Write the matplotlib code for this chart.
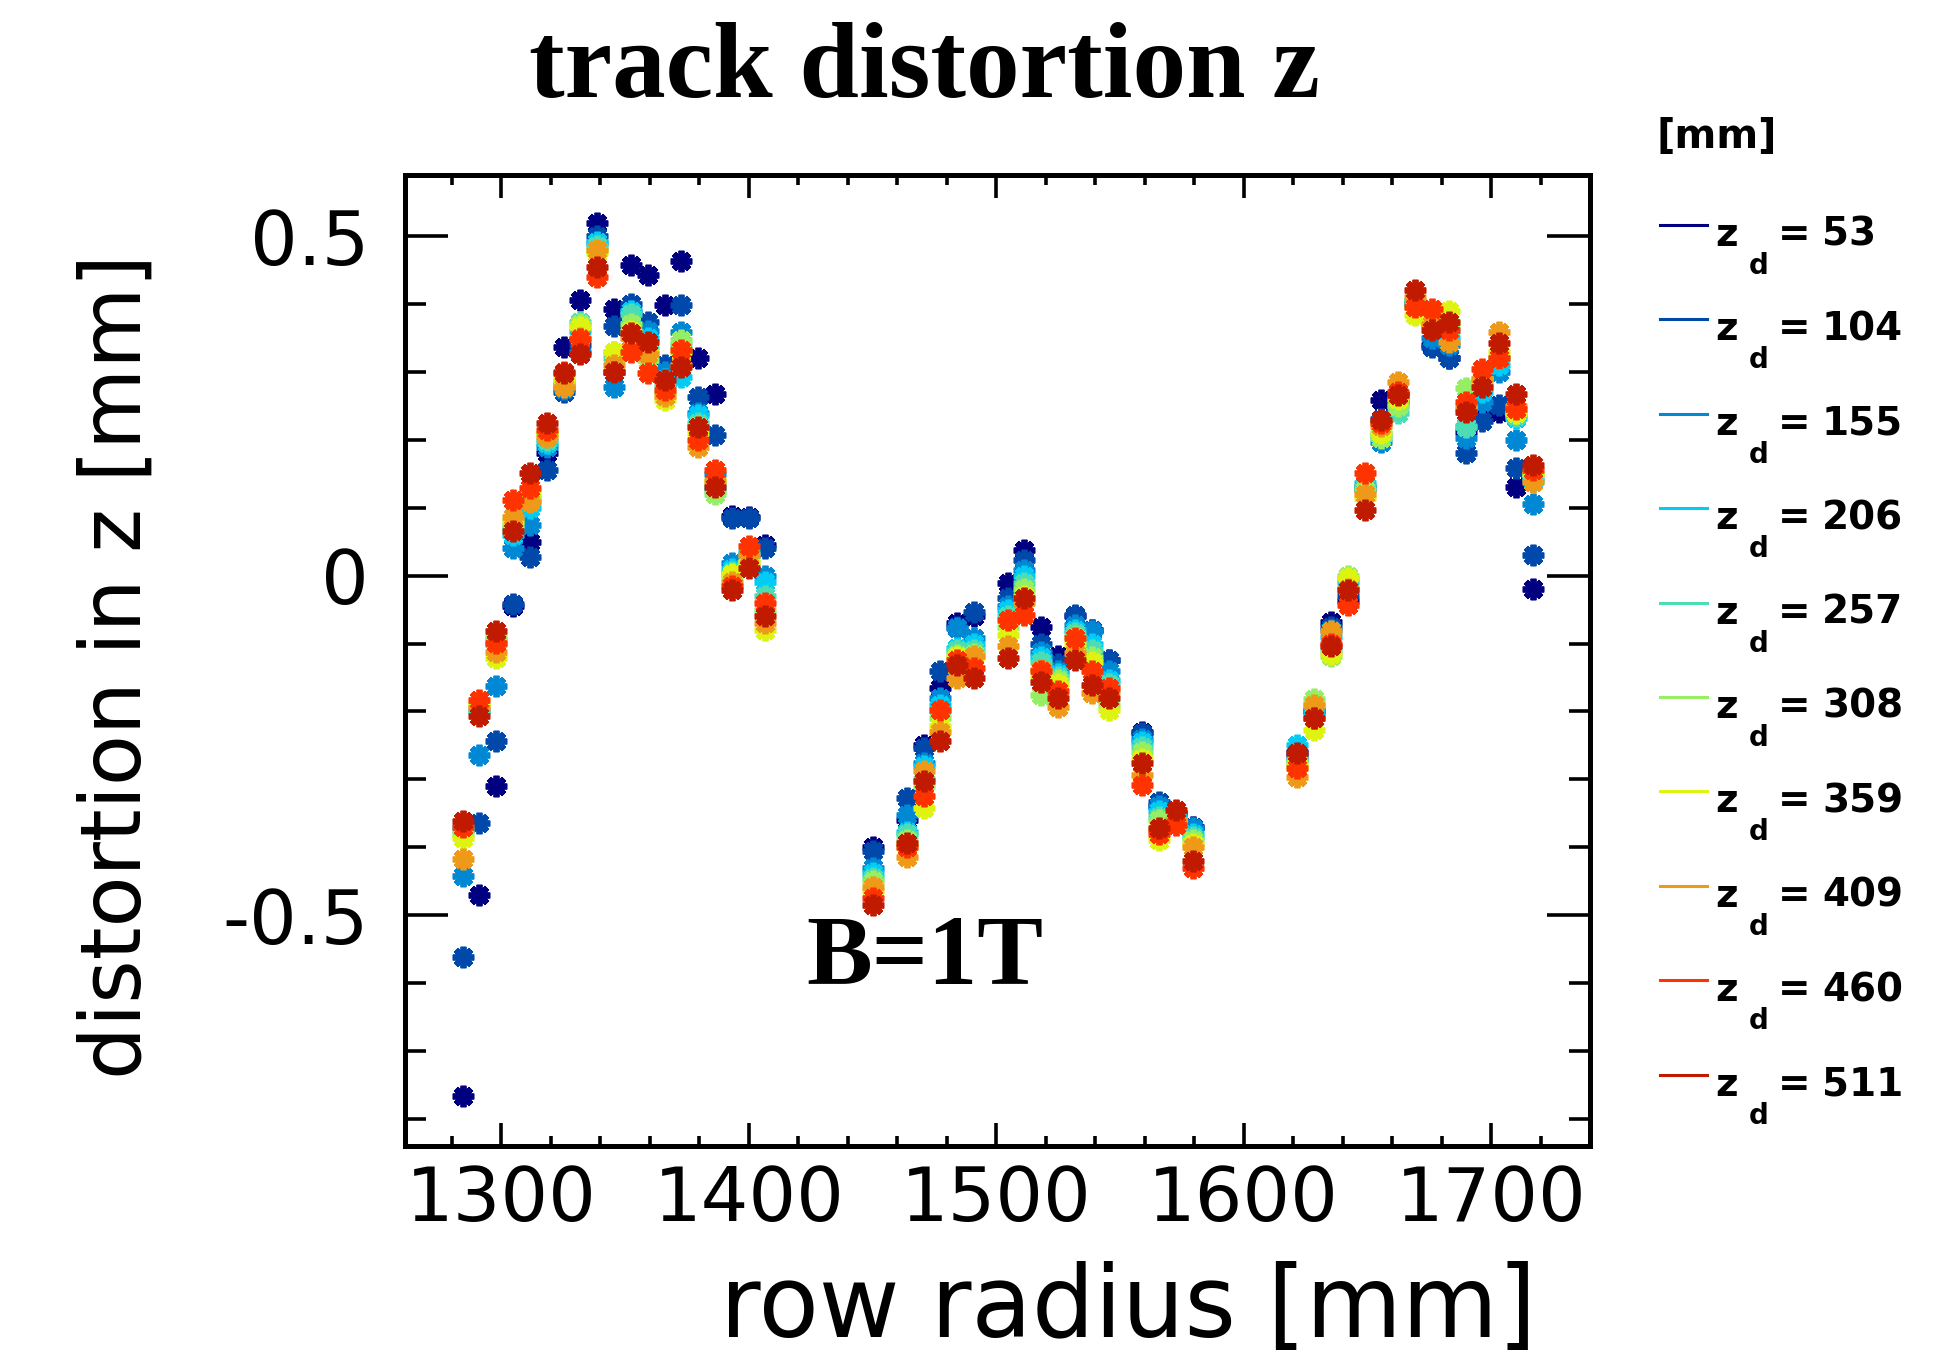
import matplotlib
matplotlib.use("Agg")
import matplotlib.pyplot as plt
from matplotlib.lines import Line2D
from matplotlib.markers import MarkerStyle
from matplotlib.ticker import MultipleLocator

plt.rcParams['axes.unicode_minus'] = False
plt.rcParams['font.family'] = 'DejaVu Sans'

# row radii [mm] of the three sectors
r_left = [1284.3, 1291.1, 1297.9, 1304.7, 1311.5, 1318.3, 1325.1, 1331.9, 1338.7, 1345.5,
          1352.3, 1359.1, 1365.9, 1372.7, 1379.5, 1386.3, 1393.1, 1399.9, 1406.7]
r_mid = [1450.2, 1463.8, 1470.6, 1477.4, 1484.2, 1491.0, 1504.6, 1511.4, 1518.2, 1525.0,
         1531.8, 1538.6, 1545.4, 1559.0, 1565.8, 1572.6, 1579.4]
r_right = [1621.7, 1628.5, 1635.3, 1642.1, 1648.9, 1655.7, 1662.5, 1669.3, 1676.1, 1682.9,
           1689.7, 1696.5, 1703.3, 1710.1, 1716.9]
row_radius = r_left + r_mid + r_right

z_drift = [53, 104, 155, 206, 257, 308, 359, 409, 460, 511]
colors = ['#000080', '#0048aa', '#0088d5', '#00ccf5', '#4cddb5',
          '#96ee64', '#ddf312', '#ee9a18', '#ff3300', '#c01a00']

# distortion in z [mm], one list per drift length (left | middle | right)
dz_53 = [-0.767, -0.47, -0.31, -0.045, 0.05, 0.18, 0.337, 0.406, 0.519, 0.393, 0.457, 0.442, 0.398, 0.464, 0.32, 0.268, 0.088, 0.087, 0.045,
         -0.40, -0.36, -0.249, -0.166, -0.07, -0.06, -0.011, 0.038, -0.075, -0.119, -0.06, -0.08, -0.124, -0.23, -0.34, -0.35, -0.37,
         -0.26, -0.20, -0.068, -0.038, 0.128, 0.259, 0.268, 0.40, 0.34, 0.32, 0.212, 0.244, 0.241, 0.131, -0.019]
dz_104 = [-0.561, -0.365, -0.244, -0.042, 0.028, 0.155, 0.27, 0.34, 0.50, 0.367, 0.40, 0.374, 0.31, 0.398, 0.263, 0.207, 0.085, 0.085, 0.04,
          -0.406, -0.328, -0.254, -0.141, -0.075, -0.053, -0.033, 0.023, -0.10, -0.13, -0.058, -0.08, -0.124, -0.232, -0.333, -0.35, -0.37,
          -0.265, -0.20, -0.075, -0.03, 0.13, 0.23, 0.26, 0.40, 0.337, 0.32, 0.181, 0.227, 0.251, 0.158, 0.03]
dz_155 = [-0.443, -0.264, -0.162, 0.040, 0.075, 0.19, 0.275, 0.33, 0.49, 0.278, 0.39, 0.36, 0.30, 0.359, 0.24, 0.15, 0.018, 0.03, 0.0,
          -0.43, -0.352, -0.276, -0.18, -0.077, -0.092, -0.045, 0.008, -0.112, -0.14, -0.073, -0.082, -0.14, -0.24, -0.34, -0.355, -0.372,
          -0.27, -0.20, -0.08, -0.02, 0.13, 0.197, 0.255, 0.40, 0.35, 0.34, 0.202, 0.256, 0.30, 0.20, 0.106]
dz_206 = [-0.37, -0.20, -0.10, 0.06, 0.10, 0.195, 0.28, 0.36, 0.492, 0.30, 0.39, 0.35, 0.29, 0.293, 0.236, 0.13, 0.01, 0.035, -0.01,
          -0.438, -0.377, -0.28, -0.19, -0.107, -0.10, -0.05, 0.0, -0.12, -0.145, -0.08, -0.10, -0.153, -0.245, -0.347, -0.355, -0.38,
          -0.25, -0.20, -0.09, -0.01, 0.136, 0.205, 0.25, 0.405, 0.37, 0.35, 0.22, 0.27, 0.31, 0.232, 0.14]
dz_257 = [-0.375, -0.20, -0.095, 0.07, 0.11, 0.20, 0.285, 0.374, 0.485, 0.32, 0.386, 0.335, 0.28, 0.34, 0.225, 0.125, 0.005, 0.03, -0.03,
          -0.445, -0.38, -0.30, -0.20, -0.11, -0.11, -0.06, -0.011, -0.127, -0.15, -0.085, -0.11, -0.16, -0.252, -0.355, -0.36, -0.385,
          -0.27, -0.19, -0.11, -0.005, 0.13, 0.21, 0.24, 0.40, 0.37, 0.36, 0.219, 0.28, 0.32, 0.235, 0.145]
dz_308 = [-0.38, -0.19, -0.09, 0.075, 0.115, 0.21, 0.285, 0.37, 0.48, 0.33, 0.37, 0.317, 0.27, 0.347, 0.22, 0.12, 0.0, 0.02, -0.05,
          -0.45, -0.39, -0.31, -0.21, -0.117, -0.115, -0.075, -0.02, -0.176, -0.153, -0.09, -0.12, -0.19, -0.26, -0.36, -0.36, -0.39,
          -0.275, -0.181, -0.119, 0.0, 0.126, 0.202, 0.25, 0.395, 0.37, 0.37, 0.276, 0.29, 0.32, 0.24, 0.15]
dz_359 = [-0.386, -0.19, -0.121, 0.08, 0.12, 0.21, 0.29, 0.366, 0.475, 0.33, 0.36, 0.33, 0.258, 0.33, 0.21, 0.14, 0.003, 0.02, -0.08,
          -0.465, -0.40, -0.342, -0.222, -0.12, -0.12, -0.087, -0.03, -0.15, -0.16, -0.10, -0.127, -0.198, -0.27, -0.389, -0.365, -0.395,
          -0.28, -0.227, -0.115, -0.004, 0.114, 0.21, 0.26, 0.384, 0.375, 0.39, 0.25, 0.29, 0.33, 0.24, 0.15]
dz_409 = [-0.417, -0.195, -0.112, 0.087, 0.109, 0.204, 0.278, 0.35, 0.48, 0.31, 0.35, 0.327, 0.265, 0.31, 0.19, 0.14, -0.01, 0.03, -0.07,
          -0.458, -0.414, -0.288, -0.23, -0.151, -0.119, -0.104, -0.04, -0.139, -0.193, -0.114, -0.173, -0.17, -0.293, -0.375, -0.36, -0.399,
          -0.296, -0.19, -0.082, -0.02, 0.12, 0.22, 0.285, 0.41, 0.37, 0.344, 0.245, 0.29, 0.359, 0.25, 0.138]
dz_460 = [-0.37, -0.183, -0.099, 0.112, 0.129, 0.215, 0.30, 0.349, 0.44, 0.30, 0.33, 0.298, 0.273, 0.332, 0.20, 0.155, -0.015, 0.043, -0.04,
          -0.475, -0.40, -0.325, -0.198, -0.125, -0.136, -0.065, -0.058, -0.14, -0.17, -0.092, -0.141, -0.166, -0.308, -0.38, -0.367, -0.43,
          -0.283, -0.21, -0.10, -0.043, 0.151, 0.225, 0.27, 0.396, 0.393, 0.362, 0.256, 0.305, 0.32, 0.246, 0.155]
dz_511 = [-0.362, -0.207, -0.082, 0.065, 0.151, 0.225, 0.298, 0.327, 0.455, 0.30, 0.357, 0.344, 0.288, 0.307, 0.219, 0.131, -0.021, 0.011, -0.06,
          -0.485, -0.394, -0.303, -0.244, -0.131, -0.151, -0.122, -0.033, -0.156, -0.18, -0.124, -0.161, -0.18, -0.276, -0.372, -0.345, -0.421,
          -0.261, -0.21, -0.104, -0.021, 0.097, 0.229, 0.266, 0.42, 0.362, 0.374, 0.241, 0.278, 0.342, 0.268, 0.163]
series = [dz_53, dz_104, dz_155, dz_206, dz_257, dz_308, dz_359, dz_409, dz_460, dz_511]

W, H = 1942, 1357
def fx(px): return px / W
def fy(px): return 1 - px / H

fig = plt.figure(figsize=(W / 100, H / 100), dpi=100)
ax = fig.add_axes([fx(405), fy(1146), fx(1590) - fx(405), fy(175) - fy(1146)])

# ROOT-like star marker: "+" and "x" drawn with thick strokes
star = MarkerStyle((8, 2, 0), capstyle='projecting')
for dz, c in zip(series, colors):
    ax.plot(row_radius, dz, ls='none', marker=star, ms=15.5, mew=4.2, color=c)

ax.set_xlim(1261, 1740)
ax.set_ylim(-0.84, 0.59)
ax.set_xticks([1300, 1400, 1500, 1600, 1700])
ax.xaxis.set_minor_locator(MultipleLocator(20))
ax.set_yticks([-0.5, 0, 0.5])
ax.set_yticklabels(['-0.5', '0', '0.5'])
ax.yaxis.set_minor_locator(MultipleLocator(0.1))
for s in ax.spines.values():
    s.set_linewidth(3.6)
ax.tick_params(which='both', direction='in', top=True, right=True, width=2.6, labelsize=54)
ax.tick_params(axis='x', which='major', length=16.5, pad=13)
ax.tick_params(axis='x', which='minor', length=7.5)
ax.tick_params(axis='y', which='major', length=31, pad=26)
ax.tick_params(axis='y', which='minor', length=15)

ax.text(1423.2, -0.602, 'B=1T', ha='left', va='baseline', fontsize=71,
        family='Liberation Serif', weight='bold')

fig.text(fx(924), fy(97), 'track distortion z', ha='center', va='baseline', fontsize=77,
         family='Liberation Serif', weight='bold')
fig.text(fx(1536), fy(1337), 'row radius [mm]', ha='right', va='baseline', fontsize=71)
fig.text(fx(117), fy(254), 'distortion in z [mm]', ha='center', va='top', rotation=90,
         fontsize=60)

# legend
fig.text(fx(1656), fy(137), '[mm]', ha='left', va='center', fontsize=29, weight='bold')
for i, (z, c) in enumerate(zip(z_drift, colors)):
    y0 = 94.4 * i
    fig.add_artist(Line2D([fx(1660), fx(1707)], [fy(225 + y0)] * 2, color=c, lw=2.2,
                          transform=fig.transFigure))
    fig.text(fx(1715), fy(246 + y0), 'z', ha='left', va='baseline', fontsize=28, weight='bold')
    fig.text(fx(1749), fy(274 + y0), 'd', ha='left', va='baseline', fontsize=20, weight='bold')
    fig.text(fx(1778), fy(246 + y0), '=', ha='left', va='baseline', fontsize=28, weight='bold')
    fig.text(fx(1822), fy(246 + y0), str(z), ha='left', va='baseline', fontsize=28, weight='bold')

fig.savefig('out.png', dpi=100)
